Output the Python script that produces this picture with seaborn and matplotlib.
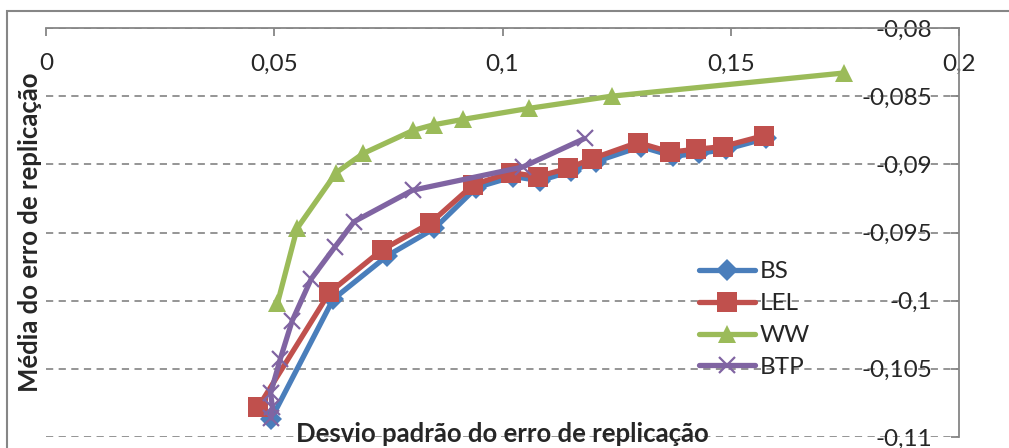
import numpy as np
import pandas as pd
import matplotlib
matplotlib.use("Agg")
import matplotlib.pyplot as plt
import matplotlib.patches as mpatches
import seaborn as sns

# values
bs_x = [0.0493, 0.0629, 0.0748, 0.0851, 0.0943, 0.1024, 0.1083, 0.1149, 0.1204,
        0.1303, 0.1373, 0.1430, 0.1489, 0.1577]
bs_y = [-0.1087, -0.0999, -0.0967, -0.0947, -0.0917, -0.0909, -0.0912, -0.0905,
        -0.0898, -0.0887, -0.0894, -0.0892, -0.0889, -0.0881]
lel_x = [0.0465, 0.0621, 0.0735, 0.0842, 0.0936, 0.1018, 0.1077, 0.1143, 0.1195,
         0.1296, 0.1368, 0.1423, 0.1482, 0.1572]
lel_y = [-0.1078, -0.0994, -0.0963, -0.0943, -0.0915, -0.0906, -0.0909, -0.0903,
         -0.0896, -0.0884, -0.0891, -0.0889, -0.0887, -0.0879]
ww_x = [0.0507, 0.0550, 0.0636, 0.0695, 0.0805, 0.0849, 0.0914, 0.1057, 0.1239, 0.1748]
ww_y = [-0.1002, -0.0947, -0.0906, -0.0892, -0.0875, -0.0871, -0.0867, -0.0859,
        -0.0850, -0.0833]
btp_x = [0.0493, 0.0496, 0.0492, 0.0513, 0.0539, 0.0581, 0.0632, 0.0675, 0.0803,
         0.1044, 0.1180]
btp_y = [-0.1086, -0.1078, -0.1068, -0.1043, -0.1015, -0.0984, -0.0961, -0.0942,
         -0.0919, -0.0902, -0.0881]

series_names = ["BS", "LEL", "WW", "BTP"]
xticks = [0, 0.05, 0.1, 0.15, 0.2]
xtick_labels = ["0", "0,05", "0,1", "0,15", "0,2"]
yticks = [-0.11, -0.105, -0.1, -0.095, -0.09, -0.085, -0.08]
ytick_labels = ["-0,11", "-0,105", "-0,1", "-0,095", "-0,09", "-0,085", "-0,08"]

df = pd.concat([
    pd.DataFrame({"x": bs_x, "y": bs_y, "serie": "BS"}),
    pd.DataFrame({"x": lel_x, "y": lel_y, "serie": "LEL"}),
    pd.DataFrame({"x": ww_x, "y": ww_y, "serie": "WW"}),
    pd.DataFrame({"x": btp_x, "y": btp_y, "serie": "BTP"}),
], ignore_index=True)

styles = {
    "BS": dict(color="#4A7EBB", marker="D", markersize=11),
    "LEL": dict(color="#C0504D", marker="s", markersize=14),
    "WW": dict(color="#9BBB59", marker="^", markersize=13),
    "BTP": dict(color="#8064A2", marker="x", markersize=12, markeredgewidth=1.6),
}

sns.set_style("white")
plt.rcParams["font.family"] = ["Lato", "DejaVu Sans"]
plt.rcParams["font.size"] = 17.5

fig = plt.figure(figsize=(10.09, 4.48), dpi=100)
ax = fig.add_axes([46 / 1009, 11 / 448, 913 / 1009, 409 / 448])

gray = "#868686"

for name in series_names:
    sub = df[df["serie"] == name]
    st = styles[name]
    sns.lineplot(data=sub, x="x", y="y", ax=ax, sort=False, estimator=None,
                 color=st["color"], marker=st["marker"], markersize=st["markersize"],
                 markeredgewidth=st.get("markeredgewidth", 0),
                 markeredgecolor=st["color"], linewidth=3.8, label=name,
                 solid_joinstyle="round", solid_capstyle="round")

ax.set_xlim(0, 0.2)
ax.set_ylim(-0.11, -0.08)

ax.xaxis.tick_top()
ax.yaxis.tick_right()
ax.set_xticks(xticks, xtick_labels)
ax.set_yticks(yticks, ytick_labels)
ax.tick_params(axis="x", direction="in", length=6, width=1.3, color=gray,
               pad=-30.5, labelsize=17.5)
ax.tick_params(axis="y", direction="in", length=6, width=1.3, color=gray,
               pad=-19, labelsize=17.5)
plt.setp(ax.get_xticklabels(), va="baseline")
plt.setp(ax.get_yticklabels(), ha="right")

ax.yaxis.grid(True, linestyle=(0, (4, 3)), color="#8C8C8C", linewidth=1.3)
ax.xaxis.grid(False)
ax.set_axisbelow(True)

for side in ["left", "bottom"]:
    ax.spines[side].set_visible(False)
for side in ["top", "right"]:
    ax.spines[side].set_color(gray)
    ax.spines[side].set_linewidth(1.3)

ax.set_xlabel("")
ax.set_ylabel("Média do erro de replicação", fontweight="bold", fontsize=18.5, labelpad=3)
ax.yaxis.set_label_position("left")
ax.text(0.5, -0.012, "Desvio padrão do erro de replicação", transform=ax.transAxes,
        ha="center", va="baseline", fontweight="bold", fontsize=18.5)

ax.legend(loc="upper left", bbox_to_anchor=(0.715, 0.43), frameon=False,
          borderaxespad=0, borderpad=0, handlelength=2.3, handletextpad=0.22,
          labelspacing=0.45, fontsize=17.5)

# outer chart border
fig.patches.append(mpatches.Rectangle((7 / 1009, -0.1), 1.2, 1.1 - 11 / 448,
                                      transform=fig.transFigure, fill=False,
                                      edgecolor=gray, linewidth=1.5))

fig.savefig("out.png", dpi=100)
